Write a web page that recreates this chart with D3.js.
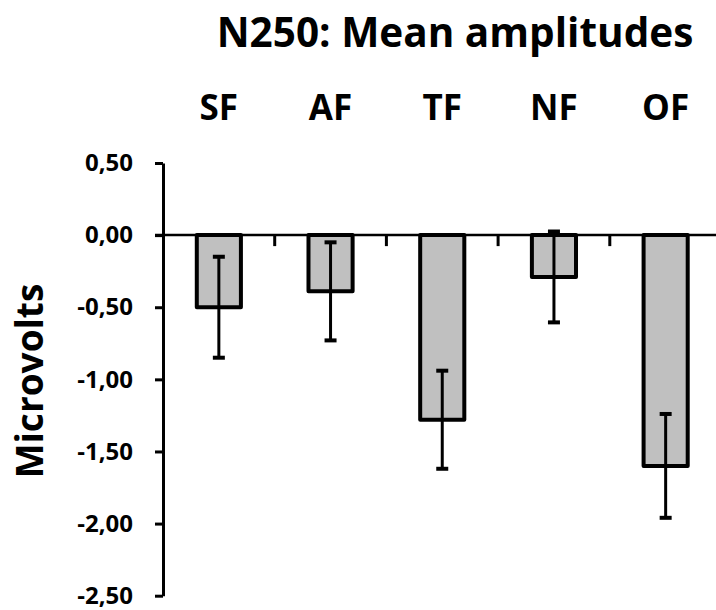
<!DOCTYPE html>
<html>
<head>
<meta charset="utf-8">
<script src="https://cdn.jsdelivr.net/npm/d3@7"></script>
<style>
  body { margin: 0; background: #fff; }
  svg { display: block; font-family: "Open Sans", Lato, sans-serif; font-weight: bold; }
</style>
</head>
<body>
<svg width="716" height="610"></svg>
<script>
(function () {

	var categories = ['SF', 'AF', 'TF', 'NF', 'OF'];
	var means = [-0.50, -0.39, -1.28, -0.29, -1.60];
	var errors = [0.35, 0.34, 0.34, 0.315, 0.36];
	var yTicks = [0.5, 0, -0.5, -1, -1.5, -2, -2.5];

	var svg = d3.select('svg');

	var x = d3.scaleBand().domain(categories).range([163, 721.5]);
	var y = d3.scaleLinear().domain([0.5, -2.5]).range([163, 595.7]);
	var barW = x.bandwidth() * 0.395;

	// title
	svg.append('text')
		.attr('x', 455).attr('y', 47)
		.attr('text-anchor', 'middle')
		.attr('font-size', 40.5)
		.text('N250: Mean amplitudes');

	// category labels at top
	svg.selectAll('.cat')
		.data(categories)
		.enter().append('text')
		.attr('class', 'cat')
		.attr('text-anchor', 'middle')
		.attr('font-size', 35)
		.attr('x', function (d) { return x(d) + x.bandwidth() / 2; })
		.attr('y', 120)
		.text(function (d) { return d; });

	// y axis
	var yAxis = d3.axisLeft(y)
		.tickValues(yTicks)
		.tickSize(8)
		.tickSizeOuter(0)
		.tickPadding(22)
		.tickFormat(function (d) { return d.toFixed(2).replace('.', ','); });

	var gy = svg.append('g')
		.attr('transform', 'translate(163,0)')
		.call(yAxis);
	gy.select('.domain').attr('stroke', '#000').attr('stroke-width', 3);
	gy.selectAll('.tick line').attr('stroke', '#000').attr('stroke-width', 3);
	gy.selectAll('.tick text')
		.attr('font-size', 24)
		.attr('font-family', '"Open Sans", sans-serif')
		.attr('font-weight', 'bold')
		.attr('fill', '#000');

	// zero line with category ticks
	var xAxis = d3.axisBottom(x)
		.tickValues(categories.slice(1))
		.tickSize(11)
		.tickSizeOuter(0)
		.tickFormat('');
	var gx = svg.append('g')
		.attr('transform', 'translate(0,' + y(0) + ')')
		.call(xAxis);
	gx.select('.domain').remove();
	gx.selectAll('.tick')
		.attr('transform', function (d) { return 'translate(' + x(d) + ',0)'; });
	gx.selectAll('.tick line').attr('stroke', '#000').attr('stroke-width', 3);
	gx.append('line')
		.attr('x1', 155).attr('x2', 716)
		.attr('y1', 0).attr('y2', 0)
		.attr('stroke', '#000').attr('stroke-width', 2.5);

	// bars
	svg.selectAll('.bar')
		.data(means)
		.enter().append('rect')
		.attr('class', 'bar')
		.attr('x', function (d, i) { return x(categories[i]) + x.bandwidth() / 2 - barW / 2; })
		.attr('y', y(0))
		.attr('width', barW)
		.attr('height', function (d) { return y(d) - y(0); })
		.attr('fill', '#c0c0c0')
		.attr('stroke', '#000')
		.attr('stroke-width', 4)
		.attr('stroke-linejoin', 'round');

	// error bars
	var eb = svg.selectAll('.err')
		.data(means)
		.enter().append('g')
		.attr('class', 'err')
		.attr('transform', function (d, i) { return 'translate(' + (x(categories[i]) + x.bandwidth() / 2) + ',0)'; });
	eb.append('line')
		.attr('y1', function (d, i) { return y(d + errors[i]); })
		.attr('y2', function (d, i) { return y(d - errors[i]); })
		.attr('stroke', '#000').attr('stroke-width', 3);
	eb.append('line')
		.attr('x1', -6).attr('x2', 6)
		.attr('y1', function (d, i) { return y(d + errors[i]); })
		.attr('y2', function (d, i) { return y(d + errors[i]); })
		.attr('stroke', '#000').attr('stroke-width', 4);
	eb.append('line')
		.attr('x1', -6).attr('x2', 6)
		.attr('y1', function (d, i) { return y(d - errors[i]); })
		.attr('y2', function (d, i) { return y(d - errors[i]); })
		.attr('stroke', '#000').attr('stroke-width', 4);

	// y axis title
	svg.append('text')
		.attr('transform', 'translate(43,381) rotate(-90)')
		.attr('text-anchor', 'middle')
		.attr('font-size', 37)
		.text('Microvolts');

})();
</script>
</body>
</html>
